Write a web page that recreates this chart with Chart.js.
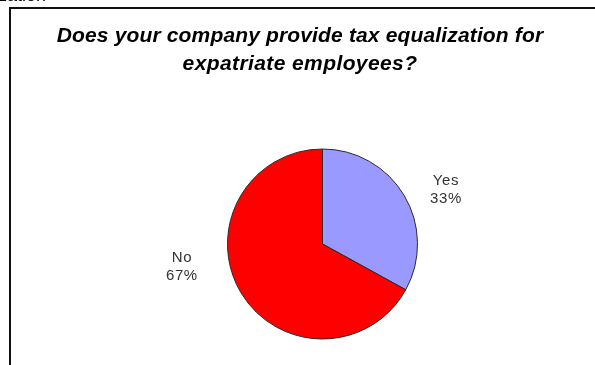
<!DOCTYPE html>
<html>
<head>
<meta charset="utf-8">
<title>Tax equalization</title>
<script src="https://cdn.jsdelivr.net/npm/chart.js@4/dist/chart.umd.min.js"></script>
<style>
  html, body { margin: 0; padding: 0; background: #fff; }
  #wrap { position: relative; width: 595px; height: 365px; overflow: hidden; font-family: "Liberation Sans", Arial, sans-serif; }
  #chart { position: absolute; left: 0; top: 0; }
  #frame { position: absolute; left: 9px; top: 7px; right: -4px; bottom: -4px; border-top: 2px solid #111; border-left: 2px solid #111; }
  #caption { position: absolute; left: -2px; top: -15px; font-size: 18px; color: #000; }
  #title { position: absolute; left: 0; top: 21px; width: 600px; text-align: center; font-size: 21px; line-height: 28px; font-weight: bold; font-style: italic; color: #000; letter-spacing: 0.15px; }
  #title .l2 { letter-spacing: 0.4px; }
</style>
</head>
<body>
<div id="wrap">
  <canvas id="chart" width="595" height="365"></canvas>
  <div id="caption">zation</div>
  <div id="frame"></div>
  <div id="title">Does your company provide tax equalization for<br><span class="l2">expatriate employees?</span></div>
</div>
<script>
// ── Survey answers ───────────────────────────────────────
const answers  = ['Yes', 'No'];
const shares   = [33, 67];
const fills    = ['#9999ff', '#ff0000'];

// Label anchors, in radius units from the pie centre
const labelAnchors = [[1.3, -0.57], [-1.48, 0.24]];

const sliceLabels = {
  id: 'sliceLabels',
  afterDatasetsDraw(chart, args, opts) {
    const { ctx } = chart;
    const arcs = chart.getDatasetMeta(0).data;
    ctx.save();
    ctx.font = '15px "Liberation Sans", Arial, sans-serif';
    ctx.letterSpacing = '0.6px';
    ctx.fillStyle = '#333';
    ctx.textAlign = 'center';
    ctx.textBaseline = 'middle';
    arcs.forEach((arc, i) => {
      const r = arc.outerRadius;
      const [ax, ay] = opts.anchors[i];
      const x = arc.x + ax * r;
      const y = arc.y + ay * r;
      const pct = Math.round(chart.data.datasets[0].data[i]) + '%';
      ctx.fillText(chart.data.labels[i], x, y - 9);
      ctx.fillText(pct, x, y + 9);
    });
    ctx.restore();
  }
};

new Chart(document.getElementById('chart'), {
  type: 'pie',
  data: {
    labels: answers,
    datasets: [{
      data: shares,
      backgroundColor: fills,
      borderColor: '#2a2a2a',
      borderWidth: 1,
      radius: 95,
    }]
  },
  options: {
    responsive: false,
    animation: false,
    layout: { padding: { left: 60, right: 10, top: 141, bottom: 18 } },
    plugins: {
      legend: { display: false },
      tooltip: { enabled: false },
      title: { display: false },
      sliceLabels: { anchors: labelAnchors },
    }
  },
  plugins: [sliceLabels]
});
</script>
</body>
</html>
